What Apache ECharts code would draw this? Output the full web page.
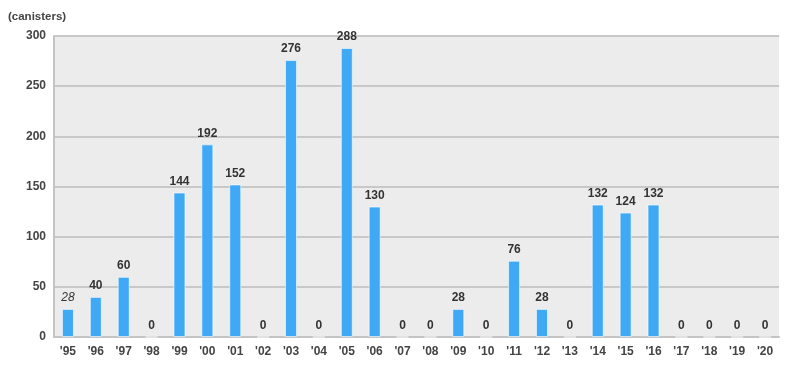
<!DOCTYPE html>
<html><head><meta charset="utf-8">
<script src="https://cdn.jsdelivr.net/npm/echarts@6/dist/echarts.min.js"></script>
<style>html,body{margin:0;padding:0;background:#fff}#c{width:800px;height:382px}</style>
</head><body><div id="c"></div>
<script>
const categories = ["'95","'96","'97","'98","'99","'00","'01","'02","'03","'04","'05","'06","'07","'08","'09","'10","'11","'12","'13","'14","'15","'16","'17","'18","'19","'20"];
const values = [28,40,60,0,144,192,152,0,276,0,288,130,0,0,28,0,76,28,0,132,124,132,0,0,0,0];
const yTicks = [0,50,100,150,200,250,300];

const FONT = 'Arial, "Liberation Sans", sans-serif';
const chart = echarts.init(document.getElementById('c'), null, {renderer:'canvas'});
chart.setOption({
  animation:false,
  backgroundColor:'#fff',
  grid:{left:54,right:21,top:36,bottom:45,show:true,backgroundColor:'#ececec',borderWidth:0},
  graphic:[{type:'text',left:8,top:11,style:{text:'(canisters)',font:'bold 11.5px ' + FONT,fill:'#444'}}],
  xAxis:{type:'category',data:categories,
    axisLine:{lineStyle:{color:'#c4c4c4',width:2}},axisTick:{show:false},
    axisLabel:{color:'#444',fontSize:12,fontWeight:'bold',fontFamily:FONT,margin:9}},
  yAxis:{type:'value',min:yTicks[0],max:yTicks[yTicks.length-1],interval:50,
    axisLine:{show:true,lineStyle:{color:'#c4c4c4',width:2}},axisTick:{show:false},
    splitLine:{lineStyle:{color:'#c8c8c8',width:2}},
    axisLabel:{color:'#444',fontSize:12,fontWeight:'bold',fontFamily:FONT,margin:8}},
  series:[{type:'bar',barWidth:12,
    data:values.map((v,i)=>i===0?{value:v,label:{fontStyle:'italic',fontWeight:'normal'}}:v),
    itemStyle:{color:'#3fa9f5',borderColor:'rgba(255,255,255,0.6)',borderWidth:1},
    label:{show:true,position:'top',distance:5,color:'#333',fontSize:12,fontWeight:'bold',fontFamily:FONT}}]
});
</script></body></html>
